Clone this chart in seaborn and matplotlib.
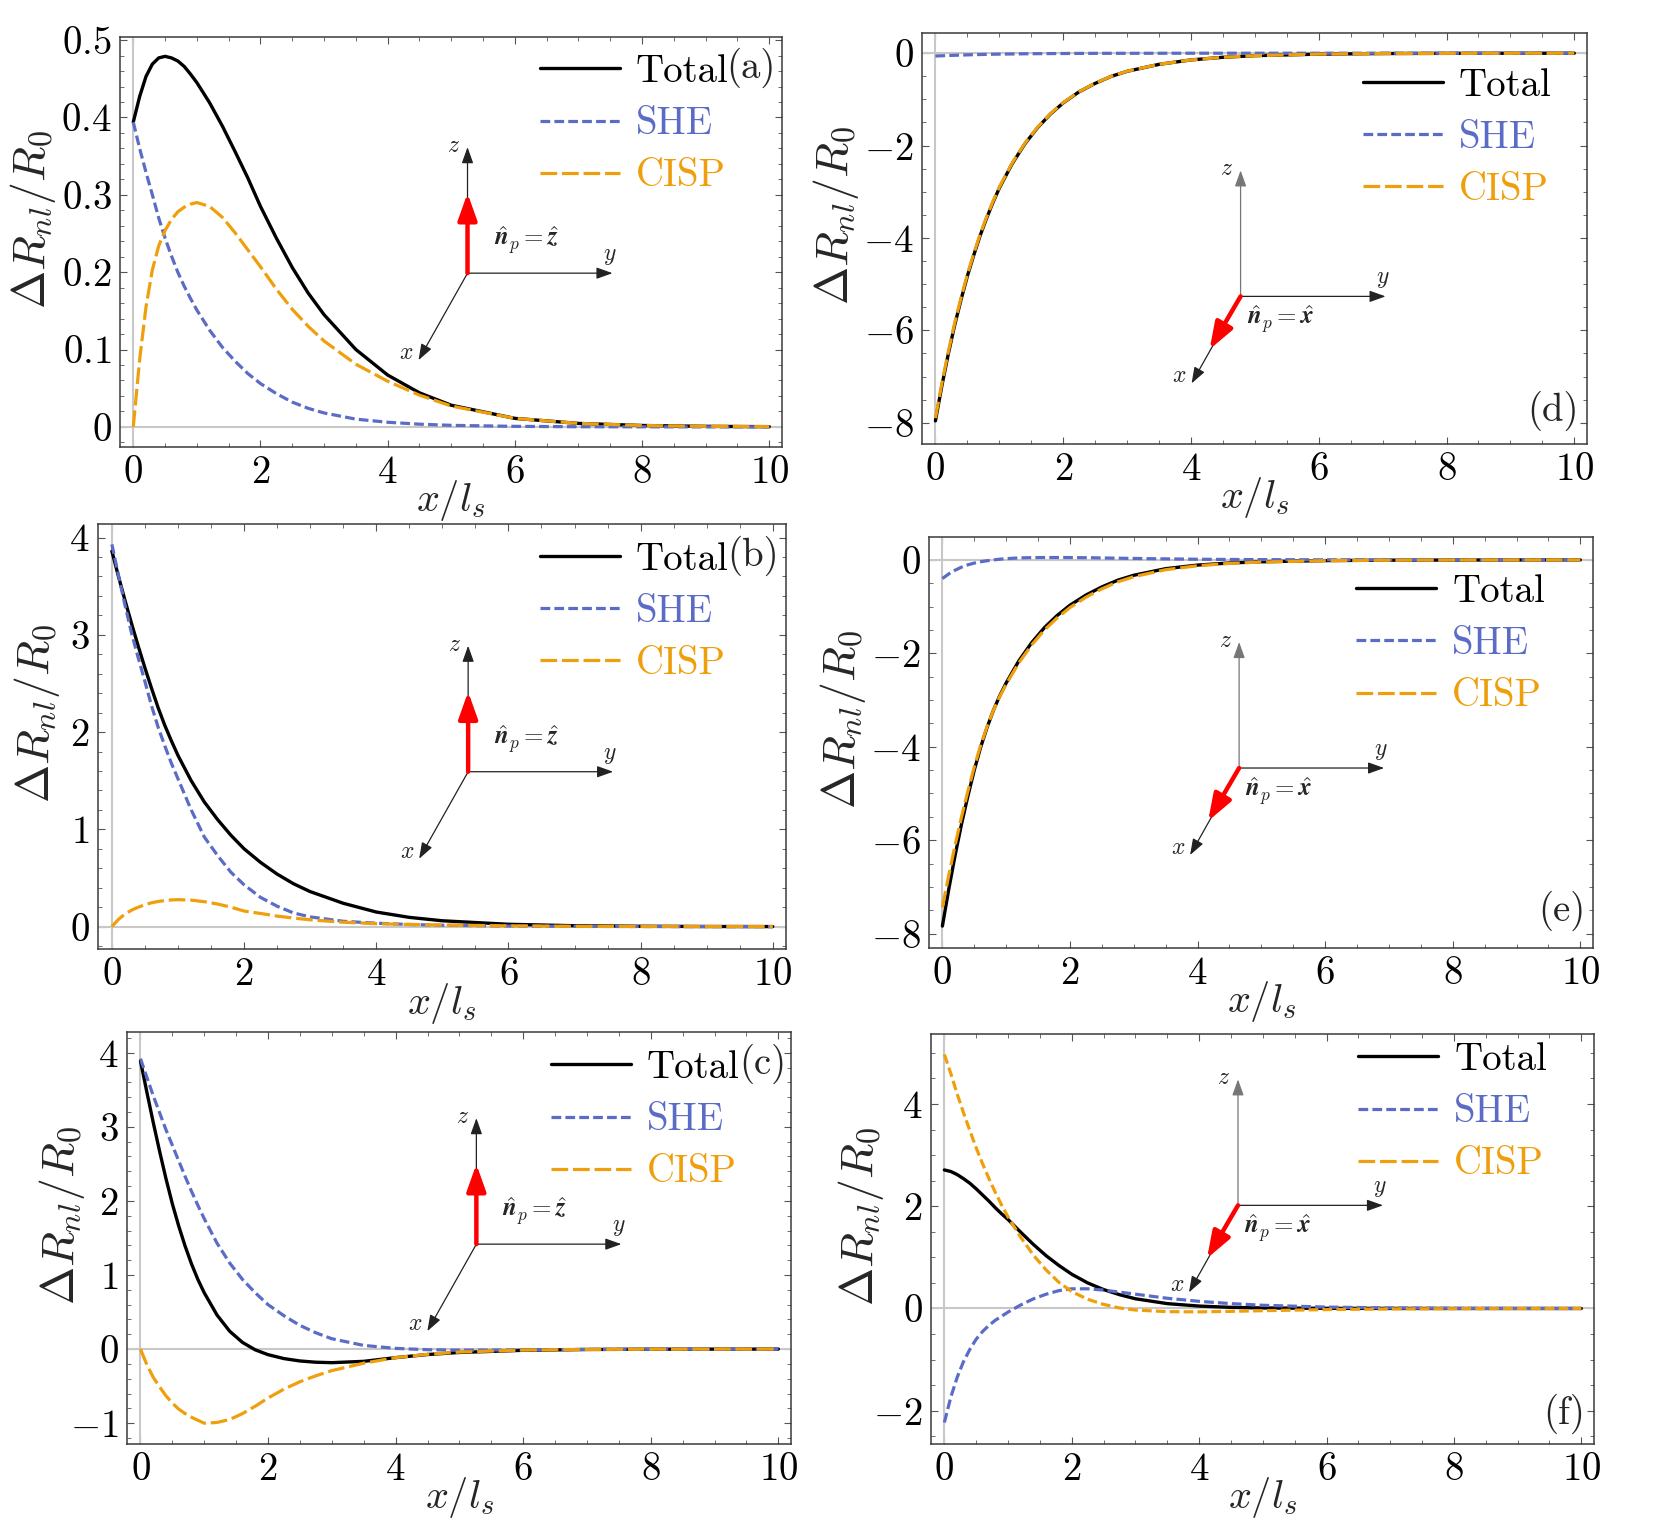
import matplotlib
matplotlib.use("Agg")
import matplotlib.pyplot as plt
from matplotlib.lines import Line2D
from matplotlib.ticker import MultipleLocator, FixedLocator, FixedFormatter
from matplotlib.transforms import offset_copy
import seaborn as sns

# sample positions along x/l_s
x_ls = [0, 0.1, 0.2, 0.3, 0.4, 0.5, 0.6, 0.7, 0.8, 0.9, 1.0, 1.2, 1.4, 1.6, 1.8, 2.0,
        2.25, 2.5, 2.75, 3.0, 3.5, 4.0, 4.5, 5.0, 6.0, 7.0, 8.0, 9.0, 10.0]

# (a) n_p = z
total_a = [0.394, 0.427, 0.453, 0.469, 0.477, 0.479, 0.477, 0.473, 0.466, 0.456, 0.445, 0.419,
           0.389, 0.356, 0.322, 0.285, 0.244, 0.206, 0.173, 0.145, 0.1, 0.067, 0.044, 0.028,
           0.011, 0.0045, 0.0018, 0.0007, 0.0003]
she_a = [0.394, 0.36, 0.329, 0.3, 0.27, 0.244, 0.221, 0.2, 0.182, 0.166, 0.151, 0.125,
         0.103, 0.085, 0.069, 0.056, 0.043, 0.032, 0.024, 0.018, 0.01, 0.006, 0.0035, 0.002,
         0.0007, 0.0002, 0.0001, 0, 0]
cisp_a = [0, 0.087, 0.155, 0.203, 0.234, 0.254, 0.268, 0.278, 0.284, 0.288, 0.29, 0.285,
          0.271, 0.251, 0.229, 0.207, 0.178, 0.152, 0.13, 0.111, 0.081, 0.059, 0.041, 0.027,
          0.011, 0.0045, 0.0018, 0.0007, 0.0003]

# (b) n_p = z
total_b = [3.86, 3.6, 3.35, 3.11, 2.88, 2.66, 2.45, 2.25, 2.07, 1.91, 1.76, 1.5,
           1.28, 1.1, 0.94, 0.8, 0.66, 0.54, 0.44, 0.36, 0.24, 0.15, 0.095, 0.06,
           0.024, 0.009, 0.0035, 0.0013, 0.0005]
she_b = [3.93, 3.61, 3.3, 3.01, 2.76, 2.52, 2.27, 2.05, 1.86, 1.68, 1.52, 1.2,
         0.92, 0.73, 0.56, 0.43, 0.3, 0.21, 0.14, 0.1, 0.055, 0.035, 0.022, 0.014,
         0.006, 0.002, 0.001, 0, 0]
cisp_b = [0, 0.075, 0.13, 0.17, 0.2, 0.225, 0.245, 0.258, 0.268, 0.274, 0.277, 0.272,
          0.256, 0.232, 0.2, 0.16, 0.135, 0.108, 0.088, 0.07, 0.045, 0.03, 0.022, 0.016,
          0.008, 0.003, 0.001, 0.0005, 0]

# (c) n_p = z
total_c = [3.89, 3.47, 3.06, 2.67, 2.3, 1.96, 1.66, 1.39, 1.15, 0.94, 0.76, 0.46,
           0.24, 0.09, -0.01, -0.075, -0.128, -0.16, -0.177, -0.183, -0.165, -0.115, -0.073,
           -0.045, -0.016, -0.005, -0.0015, 0, 0]
she_c = [3.92, 3.67, 3.42, 3.19, 2.96, 2.75, 2.54, 2.33, 2.13, 1.94, 1.76, 1.43,
         1.16, 0.94, 0.76, 0.6, 0.45, 0.32, 0.22, 0.14, 0.05, 0.01, -0.008, -0.014,
         -0.01, -0.004, -0.001, 0, 0]
cisp_c = [0, -0.21, -0.38, -0.51, -0.63, -0.73, -0.81, -0.87, -0.92, -0.96, -1.0, -0.99,
          -0.95, -0.87, -0.77, -0.66, -0.54, -0.44, -0.36, -0.29, -0.19, -0.115, -0.07,
          -0.04, -0.013, -0.004, -0.001, 0, 0]

# (d) n_p = x
total_d = [-7.96, -7.205, -6.52, -5.895, -5.34, -4.826, -4.372, -3.948, -3.575, -3.232, -2.92,
           -2.396, -1.962, -1.61, -1.318, -1.076, -0.834, -0.653, -0.502, -0.392, -0.241,
           -0.145, -0.088, -0.053, -0.02, -0.007, -0.003, -0.001, 0]
she_d = [-0.06, -0.055, -0.05, -0.045, -0.04, -0.036, -0.032, -0.028, -0.025, -0.022, -0.02,
         -0.016, -0.012, -0.01, -0.008, -0.006, -0.004, -0.003, -0.002, -0.002, -0.001,
         0, 0, 0, 0, 0, 0, 0, 0]
cisp_d = [-7.9, -7.15, -6.47, -5.85, -5.3, -4.79, -4.34, -3.92, -3.55, -3.21, -2.9,
          -2.38, -1.95, -1.6, -1.31, -1.07, -0.83, -0.65, -0.5, -0.39, -0.24,
          -0.145, -0.088, -0.053, -0.02, -0.007, -0.003, -0.001, 0]

# (e) n_p = x
total_e = [-7.84, -7.05, -6.32, -5.655, -5.055, -4.498, -4.01, -3.588, -3.22, -2.905, -2.633,
           -2.158, -1.771, -1.449, -1.189, -0.97, -0.753, -0.578, -0.434, -0.329, -0.188,
           -0.111, -0.066, -0.04, -0.015, -0.006, -0.003, -0.001, 0]
she_e = [-0.4, -0.3, -0.22, -0.155, -0.105, -0.068, -0.04, -0.018, 0.0, 0.015, 0.027,
         0.042, 0.049, 0.051, 0.051, 0.05, 0.047, 0.042, 0.036, 0.031, 0.022, 0.014,
         0.009, 0.006, 0.002, 0.001, 0, 0, 0]
cisp_e = [-7.44, -6.75, -6.1, -5.5, -4.95, -4.43, -3.97, -3.57, -3.22, -2.92, -2.66,
          -2.2, -1.82, -1.5, -1.24, -1.02, -0.8, -0.62, -0.47, -0.36, -0.21, -0.125,
          -0.075, -0.046, -0.017, -0.007, -0.003, -0.001, 0]

# (f) n_p = x
total_f = [2.71, 2.68, 2.62, 2.54, 2.45, 2.34, 2.22, 2.1, 1.97, 1.85, 1.74, 1.49,
           1.25, 1.03, 0.84, 0.67, 0.5, 0.37, 0.27, 0.19, 0.095, 0.047, 0.022, 0.01,
           0.003, 0.001, 0, 0, 0]
she_f = [-2.23, -1.74, -1.35, -1.04, -0.8, -0.6, -0.45, -0.33, -0.23, -0.15, -0.07,
         0.07, 0.19, 0.28, 0.35, 0.385, 0.385, 0.36, 0.32, 0.28, 0.2, 0.14, 0.095,
         0.063, 0.027, 0.011, 0.004, 0.0015, 0.0005]
cisp_f = [4.97, 4.6, 4.2, 3.83, 3.48, 3.14, 2.83, 2.54, 2.27, 2.02, 1.79, 1.39,
          1.04, 0.75, 0.51, 0.33, 0.18, 0.08, 0.01, -0.03, -0.062, -0.066, -0.056,
          -0.043, -0.021, -0.009, -0.003, -0.001, 0]

xticks = [0, 2, 4, 6, 8, 10]
yticks_a = [0, 0.1, 0.2, 0.3, 0.4, 0.5]
yticks_b = [0, 1, 2, 3, 4]
yticks_c = [-1, 0, 1, 2, 3, 4]
yticks_d = [-8, -6, -4, -2, 0]
yticks_e = [-8, -6, -4, -2, 0]
yticks_f = [-2, 0, 2, 4]

labels = ["Total", "SHE", "CISP"]

BLUE = "#5b6cc7"
ORANGE = "#ef9f0c"
SHORT = (0, (7, 3))
LONG = (0, (12, 3.5))

sns.set_style("ticks")
plt.rcParams.update({
    "font.family": "serif",
    "font.serif": ["cmr10", "DejaVu Serif"],
    "mathtext.fontset": "cm",
    "axes.formatter.use_mathtext": True,
    "lines.scale_dashes": False,
    "axes.edgecolor": "#3a3a3a",
    "axes.linewidth": 1.1,
    "xtick.direction": "in",
    "ytick.direction": "in",
    "xtick.color": "#555555",
    "ytick.color": "#555555",
    "xtick.labelcolor": "black",
    "ytick.labelcolor": "black",
    "xtick.major.size": 5,
    "ytick.major.size": 5,
    "xtick.minor.size": 3,
    "ytick.minor.size": 3,
    "xtick.major.pad": 6,
    "ytick.major.pad": 6,
})


def fmt(v):
    return "$0$" if v == 0 else "$%g$" % v


panels = [
    dict(tag="(a)", rect=[0.0722, 0.7065, 0.3986, 0.2692], ylim=(-0.026, 0.504),
         data=(total_a, she_a, cisp_a), yticks=yticks_a, yminor=0.02, kind="z",
         origin=(0.525, 0.424), leg=(0.634, 0.924), tagpos=(0.990, 0.924), ylx=-0.093,
         short_cisp=False),
    dict(tag="(d)", rect=[0.5551, 0.7085, 0.4004, 0.2699], ylim=(-8.46, 0.44),
         data=(total_d, she_d, cisp_d), yticks=yticks_d, yminor=0.5, kind="x",
         origin=(0.479, 0.359), leg=(0.663, 0.881), tagpos=(0.988, 0.08), ylx=-0.092,
         short_cisp=False),
    dict(tag="(b)", rect=[0.0590, 0.3769, 0.4142, 0.2791], ylim=(-0.23, 4.14),
         data=(total_b, she_b, cisp_b), yticks=yticks_b, yminor=0.2, kind="z",
         origin=(0.538, 0.417), leg=(0.642, 0.925), tagpos=(0.990, 0.925), ylx=-0.053,
         short_cisp=False),
    dict(tag="(e)", rect=[0.5593, 0.3775, 0.3998, 0.2699], ylim=(-8.31, 0.49),
         data=(total_e, she_e, cisp_e), yticks=yticks_e, yminor=0.5, kind="x",
         origin=(0.467, 0.438), leg=(0.643, 0.876), tagpos=(0.988, 0.09), ylx=-0.092,
         short_cisp=False),
    dict(tag="(c)", rect=[0.0765, 0.0519, 0.3998, 0.2705], ylim=(-1.28, 4.28),
         data=(total_c, she_c, cisp_c), yticks=yticks_c, yminor=0.2, kind="z",
         origin=(0.526, 0.485), leg=(0.638, 0.922), tagpos=(0.993, 0.922), ylx=-0.061,
         short_cisp=False),
    dict(tag="(f)", rect=[0.5605, 0.0519, 0.3992, 0.2692], ylim=(-2.65, 5.37),
         data=(total_f, she_f, cisp_f), yticks=yticks_f, yminor=0.5, kind="x",
         origin=(0.463, 0.582), leg=(0.644, 0.946), tagpos=(0.987, 0.073), ylx=-0.068,
         short_cisp=True),
]

fig = plt.figure(figsize=(16.61, 15.23), dpi=100)


def inset_frame(ax, origin, kind):
    ox, oy = origin

    def at(dx, dy):
        return offset_copy(ax.transAxes, fig=fig, x=dx, y=dy, units="dots")

    def arrow(end, color, lw, ms, style, z=6):
        ax.annotate("", xy=(ox, oy), xycoords=at(*end), xytext=(ox, oy),
                    textcoords=ax.transAxes, zorder=z,
                    arrowprops=dict(arrowstyle=style, color=color, lw=lw,
                                    mutation_scale=ms, shrinkA=0, shrinkB=0))

    thin = "-|>,head_length=0.7,head_width=0.25"
    zcol = "#222222" if kind == "z" else "#777777"
    arrow((0, 126), zcol, 0.9, 14, thin)
    arrow((145, 0), "#222222", 0.9, 14, thin)
    arrow((-49, -87), "#222222", 0.9, 14, thin)
    fat = "-|>,head_length=0.9,head_width=0.32"
    if kind == "z":
        arrow((0, 80), "red", 3.2, 18, fat, z=7)
        nlab = r"$\hat{\boldsymbol{n}}_p=\hat{\boldsymbol{z}}$"
        npos = (26, 33)
    else:
        arrow((-31, -53), "red", 3.2, 18, fat, z=7)
        nlab = r"$\hat{\boldsymbol{n}}_p=\hat{\boldsymbol{x}}$"
        npos = (6, -23)
    ax.text(ox, oy, "$z$", transform=at(-14, 127), ha="center", va="center", fontsize=17)
    ax.text(ox, oy, "$y$", transform=at(142, 17), ha="center", va="center", fontsize=17)
    ax.text(ox, oy, "$x$", transform=at(-61, -80), ha="center", va="center", fontsize=17)
    ax.text(ox, oy, nlab, transform=at(*npos), ha="left", va="center", fontsize=18)


for p in panels:
    ax = fig.add_axes(p["rect"])
    total, she, cisp = p["data"]
    ax.axhline(0, color="#c8c8c8", lw=1.5, zorder=1)
    ax.axvline(0, color="#c8c8c8", lw=1.5, zorder=1)
    sns.lineplot(x=x_ls, y=total, ax=ax, color="black", lw=2.4, zorder=3, legend=False)
    sns.lineplot(x=x_ls, y=she, ax=ax, color=BLUE, lw=2.3, linestyle=SHORT, zorder=4, legend=False)
    sns.lineplot(x=x_ls, y=cisp, ax=ax, color=ORANGE, lw=2.3,
                 linestyle=SHORT if p["short_cisp"] else LONG, zorder=5, legend=False)

    ax.set_xlim(-0.21, 10.2)
    ax.set_ylim(*p["ylim"])
    ax.xaxis.set_major_locator(FixedLocator(xticks))
    ax.xaxis.set_major_formatter(FixedFormatter([fmt(v) for v in xticks]))
    ax.yaxis.set_major_locator(FixedLocator(p["yticks"]))
    ax.yaxis.set_major_formatter(FixedFormatter([fmt(v) for v in p["yticks"]]))
    ax.xaxis.set_minor_locator(MultipleLocator(0.5))
    ax.yaxis.set_minor_locator(MultipleLocator(p["yminor"]))
    ax.tick_params(which="both", top=True, right=True, labelsize=28)

    ax.set_xlabel(r"$x/l_s$", fontsize=29, va="top")
    ax.xaxis.set_label_coords(0.5, -0.075)
    ax.set_ylabel(r"$\Delta R_{nl}/R_0$", fontsize=33)
    ax.yaxis.set_label_coords(p["ylx"], 0.555)

    handles = [Line2D([], [], color="black", lw=2.4),
               Line2D([], [], color=BLUE, lw=2.3, linestyle=SHORT),
               Line2D([], [], color=ORANGE, lw=2.3, linestyle=LONG)]
    h_px = p["rect"][3] * fig.bbox.height
    lx, ly = p["leg"]
    ax.legend(handles, labels, loc="upper left", bbox_to_anchor=(lx, ly + 14 / h_px),
              borderaxespad=0, borderpad=0, frameon=False, fontsize=28,
              handlelength=2.06, handletextpad=0.41, labelspacing=0.42,
              labelcolor=["black", BLUE, ORANGE])
    ax.text(p["tagpos"][0], p["tagpos"][1], p["tag"], transform=ax.transAxes,
            ha="right", va="center", fontsize=28)

    inset_frame(ax, p["origin"], p["kind"])

fig.savefig("out.png", dpi=100)
